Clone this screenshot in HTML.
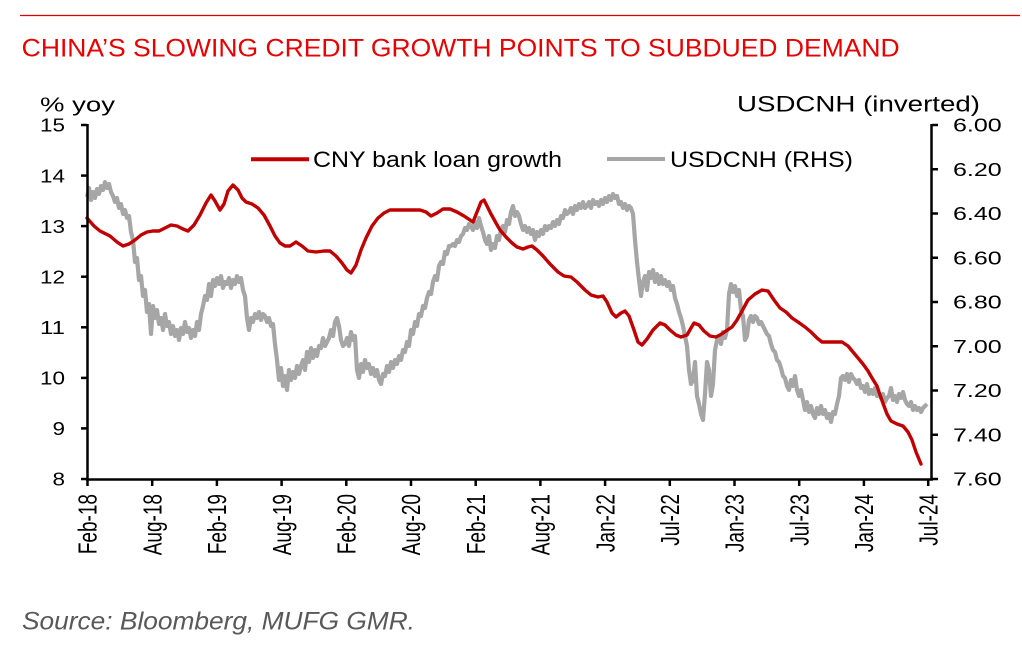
<!DOCTYPE html>
<html><head><meta charset="utf-8"><style>
html,body{margin:0;padding:0;background:#fff;}
svg{display:block;font-family:"Liberation Sans",Arial,sans-serif;}
</style></head><body>
<svg width="1022" height="660" viewBox="0 0 1022 660" xmlns="http://www.w3.org/2000/svg">
<rect width="1022" height="660" fill="#fff"/>
<line x1="20" y1="15.5" x2="1020" y2="15.5" stroke="#e00000" stroke-width="1.2"/>
<text x="21.7" y="56.7" font-size="25" fill="#e60000" textLength="878" lengthAdjust="spacingAndGlyphs">CHINA’S SLOWING CREDIT GROWTH POINTS TO SUBDUED DEMAND</text>

<text x="40" y="111.7" font-size="20" fill="#000" textLength="75" lengthAdjust="spacingAndGlyphs">% yoy</text>
<text x="737" y="111.7" font-size="22" fill="#000" textLength="243" lengthAdjust="spacingAndGlyphs">USDCNH (inverted)</text>

<!-- legend -->
<line x1="251" y1="159.3" x2="309" y2="159.3" stroke="#c00000" stroke-width="4"/>
<text x="313" y="167" font-size="22" fill="#000" textLength="249" lengthAdjust="spacingAndGlyphs">CNY bank loan growth</text>
<line x1="607" y1="159" x2="665" y2="159" stroke="#a6a6a6" stroke-width="4"/>
<text x="670" y="167" font-size="22" fill="#000" textLength="183" lengthAdjust="spacingAndGlyphs">USDCNH (RHS)</text>

<!-- gray series -->
<polyline fill="none" stroke="#a6a6a6" stroke-width="4.2" stroke-linejoin="round" points="87,197 89,188 91,200 93,192 95,198 97,189 99,194 101,186 103,190 105,182 107,188 109,184 111,192 113,196 115,202 117,198 119,208 121,204 123,214 125,210 127,218 129,216 131,232 133,240 135,262 137,258 139,280 141,276 143,296 145,290 147,312 149,304 151,334 153,306 155,318 157,310 159,324 161,318 163,330 165,314 167,326 169,322 171,334 173,326 175,336 177,330 179,340 181,328 183,334 185,322 187,332 189,328 191,338 193,330 195,336 197,322 199,330 201,314 203,306 205,296 207,300 209,284 211,296 213,280 215,286 217,278 219,284 221,276 223,288 225,282 227,284 229,278 231,288 233,280 235,284 237,276 239,282 241,278 243,290 245,296 247,318 249,330 251,318 253,322 255,314 257,318 259,312 261,320 263,314 265,316 267,322 269,318 271,326 273,324 275,344 277,360 279,380 281,368 283,386 285,376 287,390 289,370 291,380 293,372 295,378 297,366 299,374 301,366 303,360 305,370 307,352 309,362 311,348 313,358 315,350 317,356 319,346 321,348 323,338 325,346 327,342 329,338 331,330 333,336 335,322 337,318 339,326 341,340 343,346 345,344 347,338 349,346 351,332 353,340 355,336 357,370 359,378 361,364 363,372 365,360 367,368 369,364 371,374 373,368 375,376 377,370 379,380 381,384 383,374 385,376 387,366 389,372 391,362 393,368 395,360 397,364 399,356 401,360 403,350 405,352 407,342 409,346 411,330 413,334 415,322 417,326 419,314 421,316 423,306 425,308 427,298 429,292 431,294 433,282 435,276 437,280 439,266 441,262 443,264 445,252 447,254 449,246 451,246 453,244 455,246 457,240 459,242 461,236 463,234 465,228 467,230 469,224 471,226 473,230 475,222 477,228 479,218 481,226 483,232 485,240 487,244 489,236 491,250 493,244 495,248 497,236 499,240 501,230 503,226 505,232 507,220 509,224 511,212 513,206 515,216 517,212 519,216 521,224 523,230 525,226 527,232 529,228 531,234 533,230 535,240 537,232 539,236 541,230 543,234 545,226 547,230 549,226 551,228 553,222 555,226 557,220 559,224 561,216 563,218 565,210 567,214 569,212 571,208 573,214 575,206 577,210 579,204 581,208 583,202 585,208 587,206 589,202 591,208 593,200 595,204 597,202 599,206 601,200 603,204 605,198 607,202 609,196 611,200 613,194 615,198 617,196 619,204 621,202 623,208 625,204 627,210 629,206 631,208 633,214 635,240 637,262 639,280 641,296 643,282 645,276 647,290 649,272 651,278 653,270 655,282 657,274 659,284 661,276 663,284 665,280 667,286 669,282 671,290 673,286 675,298 677,304 679,312 681,318 683,326 685,336 687,346 689,370 691,384 693,380 695,362 697,396 699,404 701,414 703,420 705,394 707,362 709,370 711,396 713,384 715,350 717,340 719,336 721,344 723,332 725,338 727,330 729,294 731,284 733,292 735,286 737,296 739,290 741,310 743,316 745,340 747,336 749,320 751,316 753,322 755,316 757,318 759,324 761,322 763,326 765,330 767,334 769,336 771,344 773,350 775,352 777,360 779,362 781,368 783,376 785,378 787,386 789,390 791,380 793,386 795,376 797,390 799,396 801,390 803,400 805,410 807,402 809,412 811,406 813,414 815,418 817,408 819,414 821,406 823,414 825,410 827,418 829,414 831,422 833,412 835,414 837,404 839,396 841,378 843,376 845,380 847,374 849,382 851,374 853,378 855,380 857,384 859,380 861,388 863,386 865,392 867,384 869,394 871,390 873,394 875,388 877,396 879,394 881,398 883,394 885,402 887,398 889,396 891,388 893,400 895,396 897,402 899,394 901,398 903,392 905,400 907,404 909,406 911,402 913,410 915,406 917,410 919,408 921,412 923,408 925,406 927,404"/>

<!-- red series -->
<polyline fill="none" stroke="#c00000" stroke-width="3.4" stroke-linejoin="round" stroke-linecap="round" points="87,218 94,226 100,231 110,236 117,242 123,246 129,244 135,240 141,235 147,232 153,231 159,231 165,228 171,225 177,226 183,229 188,231 194,225 200,215 206,203 211,195 215,201 220,210 224,204 228,191 233,185 238,190 242,198 246,202 252,204 258,208 264,215 270,226 275,236 280,243 285,246 290,246 296,242 302,246 308,251 316,252 324,251 330,251 336,256 342,263 347,270 351,273 356,265 361,250 366,238 372,226 378,218 384,213 390,210 400,210 410,210 420,210 426,212 431,216 437,213 443,209 450,209 457,212 464,216 473,222 477,212 481,202 484,200 487,206 491,214 496,223 500,230 506,237 512,243 517,247 523,249 528,247 532,246 537,250 543,256 550,264 558,272 564,276 571,277 577,282 585,290 591,295 598,297 603,296 607,302 612,313 616,317 621,313 625,311 629,316 634,330 638,342 642,345 647,339 653,330 660,323 665,325 670,330 676,335 681,337 687,335 691,328 694,323 699,325 704,331 710,336 716,337 720,335 726,331 732,327 737,320 742,311 748,300 755,294 762,290 768,291 774,300 780,308 786,312 792,318 798,322 805,327 811,332 817,338 822,342 832,342 842,342 848,346 853,352 858,358 863,364 868,371 872,378 877,386 880,395 884,406 887,414 891,421 897,424 903,426 908,432 912,440 916,452 921,464"/>

<!-- axes -->
<g stroke="#000" stroke-width="2.5" fill="none">
<line x1="87.5" y1="124" x2="87.5" y2="480.5"/>
<line x1="86" y1="479.5" x2="933" y2="479.5"/>
<line x1="931.5" y1="124" x2="931.5" y2="480.5"/>
<line x1="81" y1="125" x2="87" y2="125"/>
<line x1="81" y1="175.6" x2="87" y2="175.6"/>
<line x1="81" y1="226.1" x2="87" y2="226.1"/>
<line x1="81" y1="276.7" x2="87" y2="276.7"/>
<line x1="81" y1="327.3" x2="87" y2="327.3"/>
<line x1="81" y1="377.9" x2="87" y2="377.9"/>
<line x1="81" y1="428.4" x2="87" y2="428.4"/>
<line x1="81" y1="479" x2="87" y2="479"/>
<line x1="932" y1="125" x2="938" y2="125"/>
<line x1="932" y1="169.25" x2="938" y2="169.25"/>
<line x1="932" y1="213.5" x2="938" y2="213.5"/>
<line x1="932" y1="257.75" x2="938" y2="257.75"/>
<line x1="932" y1="302" x2="938" y2="302"/>
<line x1="932" y1="346.25" x2="938" y2="346.25"/>
<line x1="932" y1="390.5" x2="938" y2="390.5"/>
<line x1="932" y1="434.75" x2="938" y2="434.75"/>
<line x1="932" y1="479" x2="938" y2="479"/>
<line x1="87.5" y1="479" x2="87.5" y2="486"/>
<line x1="152.2" y1="479" x2="152.2" y2="486"/>
<line x1="216.9" y1="479" x2="216.9" y2="486"/>
<line x1="281.6" y1="479" x2="281.6" y2="486"/>
<line x1="346.3" y1="479" x2="346.3" y2="486"/>
<line x1="411" y1="479" x2="411" y2="486"/>
<line x1="475.7" y1="479" x2="475.7" y2="486"/>
<line x1="540.4" y1="479" x2="540.4" y2="486"/>
<line x1="605.1" y1="479" x2="605.1" y2="486"/>
<line x1="669.8" y1="479" x2="669.8" y2="486"/>
<line x1="734.5" y1="479" x2="734.5" y2="486"/>
<line x1="799.2" y1="479" x2="799.2" y2="486"/>
<line x1="863.9" y1="479" x2="863.9" y2="486"/>
<line x1="928.2" y1="479" x2="928.2" y2="486"/>
</g>

<!-- left labels -->
<g font-size="18.6" fill="#000" text-anchor="end">
<text x="65" y="131.7" textLength="25" lengthAdjust="spacingAndGlyphs">15</text>
<text x="65" y="182.3" textLength="25" lengthAdjust="spacingAndGlyphs">14</text>
<text x="65" y="232.8" textLength="25" lengthAdjust="spacingAndGlyphs">13</text>
<text x="65" y="283.4" textLength="25" lengthAdjust="spacingAndGlyphs">12</text>
<text x="65" y="334" textLength="25" lengthAdjust="spacingAndGlyphs">11</text>
<text x="65" y="384.6" textLength="25" lengthAdjust="spacingAndGlyphs">10</text>
<text x="65" y="435.1" textLength="12.5" lengthAdjust="spacingAndGlyphs">9</text>
<text x="65" y="485.7" textLength="12.5" lengthAdjust="spacingAndGlyphs">8</text>
</g>

<!-- right labels -->
<g font-size="18.6" fill="#000">
<text x="953" y="131.7" textLength="48.7" lengthAdjust="spacingAndGlyphs">6.00</text>
<text x="953" y="175.9" textLength="48.7" lengthAdjust="spacingAndGlyphs">6.20</text>
<text x="953" y="220.2" textLength="48.7" lengthAdjust="spacingAndGlyphs">6.40</text>
<text x="953" y="264.4" textLength="48.7" lengthAdjust="spacingAndGlyphs">6.60</text>
<text x="953" y="308.7" textLength="48.7" lengthAdjust="spacingAndGlyphs">6.80</text>
<text x="953" y="352.9" textLength="48.7" lengthAdjust="spacingAndGlyphs">7.00</text>
<text x="953" y="397.2" textLength="48.7" lengthAdjust="spacingAndGlyphs">7.20</text>
<text x="953" y="441.4" textLength="48.7" lengthAdjust="spacingAndGlyphs">7.40</text>
<text x="953" y="485.7" textLength="48.7" lengthAdjust="spacingAndGlyphs">7.60</text>
</g>

<!-- x labels -->
<g font-size="19" fill="#000" text-anchor="end">
<text transform="translate(96.7,494) scale(1.35,1) rotate(-90)">Feb-18</text>
<text transform="translate(161.4,494) scale(1.35,1) rotate(-90)">Aug-18</text>
<text transform="translate(226.1,494) scale(1.35,1) rotate(-90)">Feb-19</text>
<text transform="translate(290.8,494) scale(1.35,1) rotate(-90)">Aug-19</text>
<text transform="translate(355.5,494) scale(1.35,1) rotate(-90)">Feb-20</text>
<text transform="translate(420.2,494) scale(1.35,1) rotate(-90)">Aug-20</text>
<text transform="translate(484.9,494) scale(1.35,1) rotate(-90)">Feb-21</text>
<text transform="translate(549.6,494) scale(1.35,1) rotate(-90)">Aug-21</text>
<text transform="translate(614.3,494) scale(1.35,1) rotate(-90)">Jan-22</text>
<text transform="translate(679,494) scale(1.35,1) rotate(-90)">Jul-22</text>
<text transform="translate(743.7,494) scale(1.35,1) rotate(-90)">Jan-23</text>
<text transform="translate(808.4,494) scale(1.35,1) rotate(-90)">Jul-23</text>
<text transform="translate(873.1,494) scale(1.35,1) rotate(-90)">Jan-24</text>
<text transform="translate(937.4,494) scale(1.35,1) rotate(-90)">Jul-24</text>
</g>

<text x="22" y="629.3" font-size="25" font-style="italic" fill="#595959" textLength="393" lengthAdjust="spacingAndGlyphs">Source: Bloomberg, MUFG GMR.</text>
</svg>
</body></html>
